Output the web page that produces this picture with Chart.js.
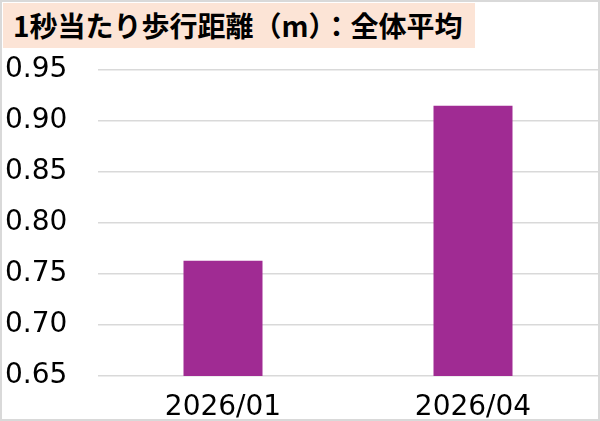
<!DOCTYPE html>
<html>
<head>
<meta charset="utf-8">
<script src="https://cdn.jsdelivr.net/npm/chart.js@4/dist/chart.umd.min.js"></script>
<style>
  html, body { margin: 0; padding: 0; background: #fff; }
  #frame {
    position: relative;
    width: 600px; height: 421px;
    box-sizing: border-box;
    border: 2px solid #d9d9d9;
    background: #fff;
  }
  #title {
    position: absolute;
    left: 1px; top: 1px;
    width: 472px; height: 45px;
    background: #fce4d6;
    font-family: "Noto Sans CJK JP", sans-serif;
    font-weight: bold;
    font-size: 28px;
    line-height: 45px;
    padding-left: 10px;
    box-sizing: border-box;
    color: #000;
    white-space: nowrap;
  }
  canvas { position: absolute; left: 0; top: 0; }
</style>
</head>
<body>
<div id="frame">
  <canvas id="chart" width="596" height="417"></canvas>
  <div id="title">1秒当たり歩行距離（m）：全体平均</div>
</div>
<script>
// data
const categories = ['2026/01', '2026/04'];
const walkPerSecond = [0.763, 0.915];
const yTicks = [0.65, 0.70, 0.75, 0.80, 0.85, 0.90, 0.95];

const tickFont = { family: '"DejaVu Sans", sans-serif', size: 28 };

const ctx = document.getElementById('chart').getContext('2d');
new Chart(ctx, {
  type: 'bar',
  data: {
    labels: categories,
    datasets: [{
      label: '1秒当たり歩行距離（m）',
      data: walkPerSecond,
      backgroundColor: '#a02b93',
      barPercentage: 0.316,
      categoryPercentage: 1
    }]
  },
  options: {
    responsive: false,
    animation: false,
    devicePixelRatio: 1,
    layout: { padding: { left: 3, top: 68, right: 0, bottom: 0 } },
    plugins: {
      legend: { display: false },
      tooltip: { enabled: false }
    },
    scales: {
      x: {
        afterFit: (scale) => { scale.height = 43; },
        grid: { display: false, drawTicks: false },
        border: { display: false },
        ticks: { color: '#000', font: tickFont, padding: 15 }
      },
      y: {
        min: yTicks[0],
        max: yTicks[yTicks.length - 1],
        afterBuildTicks: (scale) => {
          scale.ticks = yTicks.map(v => ({ value: v }));
        },
        afterFit: (scale) => { scale.width = 93; },
        grid: { color: '#d9d9d9', lineWidth: 1.5, drawTicks: false },
        border: { display: false },
        ticks: {
          color: '#000',
          font: tickFont,
          crossAlign: 'far',
          padding: 0,
          callback: (v) => Number(v).toFixed(2)
        }
      }
    }
  }
});
</script>
</body>
</html>
